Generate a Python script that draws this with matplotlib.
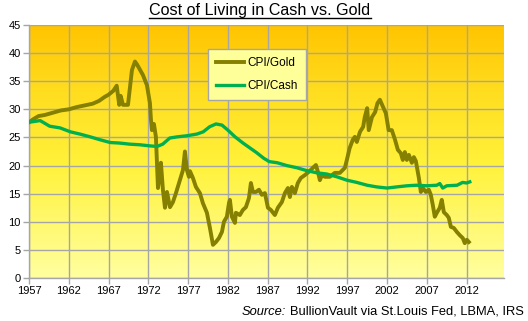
import matplotlib
matplotlib.use("Agg")
import matplotlib.pyplot as plt
import numpy as np
from matplotlib.colors import LinearSegmentedColormap
from matplotlib.lines import Line2D

plt.rcParams['font.family'] = ['Liberation Sans', 'DejaVu Sans']

title = "Cost of Living in Cash vs. Gold"
series_names = ["CPI/Gold", "CPI/Cash"]

gold_years = [1957.0, 1957.6, 1958.2, 1959.0, 1960.0, 1961.0, 1962.0, 1963.0, 1964.0, 1965.0,
              1965.8, 1966.5, 1967.0, 1967.6, 1968.02, 1968.34, 1968.52, 1968.81, 1969.44, 1969.94,
              1970.32, 1970.57, 1971.32, 1971.82, 1972.2, 1972.33, 1972.45, 1972.7, 1972.95, 1973.08,
              1973.21, 1973.46, 1973.58, 1973.83, 1974.09, 1974.34, 1974.72, 1975.09, 1975.47, 1975.97,
              1976.35, 1976.6, 1976.85, 1977.1, 1977.23, 1977.6, 1977.98, 1978.48, 1978.86, 1979.36,
              1979.74, 1980.12, 1980.49, 1980.87, 1981.25, 1981.5, 1981.87, 1982.13, 1982.25, 1982.5,
              1982.88, 1983.0, 1983.5, 1983.88, 1984.26, 1984.64, 1984.89, 1985.14, 1985.52, 1985.9,
              1986.27, 1986.65, 1987.03, 1987.4, 1987.9, 1988.28, 1988.78, 1989.16, 1989.54, 1989.79,
              1990.04, 1990.42, 1990.79, 1991.17, 1991.67, 1992.18, 1992.68, 1993.06, 1993.31, 1993.56,
              1993.81, 1994.19, 1994.81, 1995.44, 1996.07, 1996.7, 1996.95, 1997.3, 1997.7, 1997.95,
              1998.2, 1998.6, 1999.0, 1999.2, 1999.5, 1999.7, 2000.1, 2000.5, 2000.8, 2001.1,
              2001.5, 2001.85, 2002.2, 2002.6, 2003.0, 2003.36, 2003.73, 2003.98, 2004.24, 2004.49,
              2004.74, 2005.12, 2005.37, 2005.62, 2006.0, 2006.25, 2006.5, 2006.88, 2007.25, 2007.5,
              2007.75, 2008.0, 2008.26, 2008.63, 2008.88, 2009.14, 2009.51, 2009.76, 2010.02, 2010.39,
              2010.77, 2011.15, 2011.52, 2011.77, 2012.03, 2012.28]
gold_values = [27.7, 28.3, 28.8, 29.0, 29.4, 29.8, 30.0, 30.4, 30.7, 31.0,
               31.5, 32.2, 32.6, 33.3, 34.2, 30.8, 32.4, 30.8, 30.8, 37.0,
               38.5, 38.0, 36.1, 34.3, 31.1, 28.1, 26.3, 27.4, 25.1, 20.5,
               16.0, 18.7, 20.5, 15.7, 12.5, 15.3, 12.6, 13.5, 15.1, 17.4,
               19.2, 22.5, 19.2, 18.0, 19.0, 17.8, 16.2, 15.1, 13.3, 11.6,
               8.9, 5.9, 6.4, 7.1, 8.2, 10.0, 10.9, 13.3, 13.9, 10.9,
               9.8, 11.6, 11.2, 12.1, 12.6, 14.2, 16.9, 15.3, 15.3, 15.7,
               14.8, 15.1, 12.5, 12.1, 11.2, 12.5, 13.5, 15.1, 16.0, 14.4,
               16.2, 15.1, 16.9, 17.8, 18.3, 18.9, 19.6, 20.1, 18.9, 17.4,
               18.3, 18.0, 18.0, 18.7, 18.7, 19.6, 21.0, 23.1, 24.6, 25.1,
               24.2, 26.0, 26.9, 28.6, 30.2, 26.3, 28.6, 29.5, 31.1, 31.7,
               30.4, 29.3, 26.3, 26.3, 24.6, 22.8, 22.2, 21.0, 22.4, 21.0,
               21.9, 20.5, 21.5, 20.8, 17.8, 15.3, 16.0, 15.3, 15.7, 14.8,
               13.0, 10.9, 11.6, 12.5, 13.9, 11.7, 11.2, 10.7, 9.1, 8.9,
               8.2, 7.6, 7.1, 6.2, 6.8, 6.4]

cash_years = [1957.0, 1958.4, 1959.6, 1960.9, 1962.2, 1963.4, 1964.7, 1965.9, 1967.2, 1968.4,
              1969.7, 1970.9, 1972.2, 1973.1, 1973.8, 1974.7, 1975.6, 1976.85, 1978.1, 1978.9,
              1979.7, 1980.5, 1981.25, 1982.0, 1982.9, 1983.9, 1984.8, 1985.6, 1986.5, 1987.2,
              1988.2, 1989.4, 1990.7, 1991.9, 1993.2, 1994.4, 1995.7, 1996.95, 1998.2, 1999.5,
              2000.7, 2002.0, 2003.2, 2004.5, 2005.7, 2007.0, 2008.26, 2008.63, 2009.0, 2009.5,
              2010.8, 2011.5, 2012.0, 2012.4]
cash_values = [27.7, 28.0, 27.0, 26.7, 26.0, 25.6, 25.1, 24.6, 24.1, 24.0,
               23.8, 23.7, 23.5, 23.4, 23.8, 24.9, 25.1, 25.3, 25.6, 26.0,
               26.9, 27.4, 27.2, 26.3, 25.1, 24.0, 23.1, 22.3, 21.3, 20.7,
               20.5, 20.0, 19.6, 19.1, 18.7, 18.5, 18.0, 17.4, 17.0, 16.5,
               16.2, 16.0, 16.2, 16.4, 16.5, 16.4, 16.5, 16.8, 16.0, 16.4,
               16.5, 17.0, 16.9, 17.1]

x_ticks = [1957, 1962, 1967, 1972, 1977, 1982, 1987, 1992, 1997, 2002, 2007, 2012]
y_ticks = [0, 5, 10, 15, 20, 25, 30, 35, 40, 45]
source_label = "Source:"
source_text = "BullionVault via St.Louis Fed, LBMA, IRS"

W, H = 528, 321
fig = plt.figure(figsize=(W / 100, H / 100), dpi=100)
fig.patch.set_facecolor("white")
ax = fig.add_axes([29 / W, (H - 278) / H, (504 - 29) / W, (278 - 25) / H])

xmin, xmax = 1957, 2016.7
ax.set_xlim(xmin, xmax)
ax.set_ylim(0, 45)

# gradient background
cmap = LinearSegmentedColormap.from_list(
    "bg", [(0.0, "#FFFFA0"), (0.45, "#FFF23A"), (0.75, "#FFDC1E"), (1.0, "#FFC400")])
grad = np.linspace(0, 1, 256).reshape(-1, 1)
ax.imshow(grad, extent=[xmin, xmax, 0, 45], origin="lower", aspect="auto",
          cmap=cmap, zorder=0)

grid_c = "#A6A6A6"
for yt in y_ticks:
    ax.axhline(yt, color=grid_c, lw=1.0, zorder=1)
for xt in x_ticks:
    ax.axvline(xt, color=grid_c, lw=1.0, zorder=1)

ax.plot(gold_years, gold_values, color="#858000", lw=2.8, zorder=3,
        solid_joinstyle="round", label=series_names[0])
ax.plot(cash_years, cash_values, color="#00B050", lw=2.4, zorder=3,
        solid_joinstyle="round", label=series_names[1])

for s in ["top", "right"]:
    ax.spines[s].set_visible(False)
for s in ["left", "bottom"]:
    ax.spines[s].set_color(grid_c)
    ax.spines[s].set_linewidth(1.0)

ax.set_xticks(x_ticks)
ax.set_xticklabels([str(t) for t in x_ticks])
ax.set_yticks(y_ticks)
ax.set_yticklabels([str(t) for t in y_ticks])
ax.tick_params(axis="both", colors=grid_c, labelcolor="black", labelsize=8,
               length=4, width=1, direction="out", pad=2)

leg = ax.legend(loc="upper left", bbox_to_anchor=((208 - 29) / (504 - 29), (278 - 49) / (278 - 25)),
                fontsize=8.5, frameon=True, fancybox=False, handlelength=2.4,
                handletextpad=0.3, borderpad=0.65, labelspacing=1.0, borderaxespad=0)
leg.get_frame().set_facecolor("#FFFF99")
leg.get_frame().set_edgecolor("#A6A6A6")
leg.get_frame().set_linewidth(1.0)
leg.get_frame().set_alpha(1)

t = fig.text(260 / W, 1 - 11 / H, title, ha="center", va="center", fontsize=11.6)
fig.canvas.draw()
bb = t.get_window_extent()
fig.add_artist(Line2D([bb.x0 / W, bb.x1 / W], [(bb.y0 + 0.5) / H, (bb.y0 + 0.5) / H],
                      color="black", lw=1.0, transform=fig.transFigure))

fig.text(524 / W, 1 - 312 / H, source_text, ha="right", va="center", fontsize=9.3)
fig.canvas.draw()
sb = fig.texts[-1].get_window_extent()
fig.text((sb.x0 - 4) / W, 1 - 312 / H, source_label, ha="right", va="center",
         fontsize=9.3, style="italic")

fig.savefig("out.png", dpi=100)
